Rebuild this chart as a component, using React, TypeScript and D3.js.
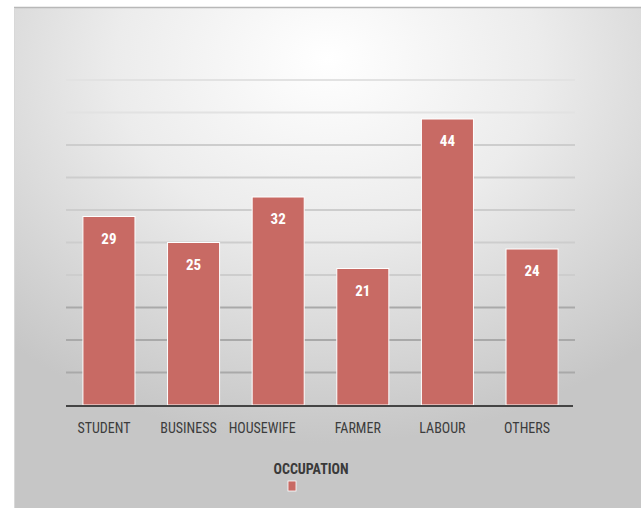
import React from "react";
import * as d3 from "d3";

const categories = ["STUDENT", "BUSINESS", "HOUSEWIFE", "FARMER", "LABOUR", "OTHERS"];
const values = [29, 25, 32, 21, 44, 24];
const gridTicks = [0, 5, 10, 15, 20, 25, 30, 35, 40, 45, 50];
const legendLabel = "OCCUPATION";

const W = 641;
const H = 508;
const plot = { left: 66, right: 575, top: 80, bottom: 405 };
const barColor = "#c86a64";
const condensed = "'Liberation Sans Narrow', 'Roboto Condensed', 'Open Sans', sans-serif";

const App = () => {
  const x = d3
    .scaleBand()
    .domain(categories)
    .range([plot.left, plot.right])
    .paddingInner(0.385)
    .paddingOuter(0.2);

  const y = d3.scaleLinear().domain([0, 50]).range([plot.bottom, plot.top]);

  // long labels get pushed a little further left, like in the original
  const labelDx = (c: string) => (c.length > 8 ? -16 : -5);

  return (
    <svg
      width={W}
      height={H}
      style={{ position: "absolute", left: 0, top: 0 }}
    >
      <defs>
        <radialGradient id="bg" cx="0.5" cy="0.12" r="0.75" fx="0.5" fy="0.1">
          <stop offset="0" stopColor="#ffffff" />
          <stop offset="0.45" stopColor="#ececec" />
          <stop offset="1" stopColor="#c6c6c6" />
        </radialGradient>
      </defs>
      <rect x={0} y={0} width={W} height={H} fill="#ffffff" />
      <rect x={14} y={8} width={W - 14} height={H - 8} fill="url(#bg)" />
      <line x1={14} x2={W} y1={7.5} y2={7.5} stroke="#b8b8b8" strokeWidth={1.5} />
      <line x1={14.5} x2={14.5} y1={8} y2={H} stroke="#d8d8d8" strokeWidth={1} />

      {/* gridlines */}
      {gridTicks.slice(1).map((t) => (
        <line
          key={t}
          x1={plot.left}
          x2={plot.right}
          y1={y(t)}
          y2={y(t)}
          stroke={t <= 15 ? "#a9a9a9" : t >= 45 ? "#e2e2e2" : "#cdcdcd"}
          strokeWidth={2}
        />
      ))}

      {/* bars */}
      {categories.map((c, i) => (
        <g key={c}>
          <rect
            x={x(c)}
            y={y(values[i])}
            width={x.bandwidth()}
            height={y(0) - y(values[i])}
            fill={barColor}
            stroke="#ffffff"
            strokeWidth={1}
          />
          <text
            x={(x(c) as number) + x.bandwidth() / 2}
            y={y(values[i]) + 27}
            textAnchor="middle"
            fill="#ffffff"
            fontFamily={condensed}
            fontWeight="bold"
            fontSize={15}
          >
            {values[i]}
          </text>
          <text
            x={(x(c) as number) + x.bandwidth() / 2 + labelDx(c)}
            y={433}
            textAnchor="middle"
            fill="#3c3c3c"
            fontFamily={condensed}
            fontSize={14}
          >
            {c}
          </text>
        </g>
      ))}

      {/* baseline */}
      <line
        x1={plot.left}
        x2={plot.right - 2}
        y1={plot.bottom + 1}
        y2={plot.bottom + 1}
        stroke="#444"
        strokeWidth={2}
      />

      {/* legend */}
      <text
        x={311}
        y={474}
        textAnchor="middle"
        fill="#3a3a3a"
        fontFamily={condensed}
        fontWeight="bold"
        fontSize={14}
      >
        {legendLabel}
      </text>
      <rect x={288} y={481} width={8} height={10} fill={barColor} stroke="#ffffff" strokeWidth={0.8} />
    </svg>
  );
};

export default App;
